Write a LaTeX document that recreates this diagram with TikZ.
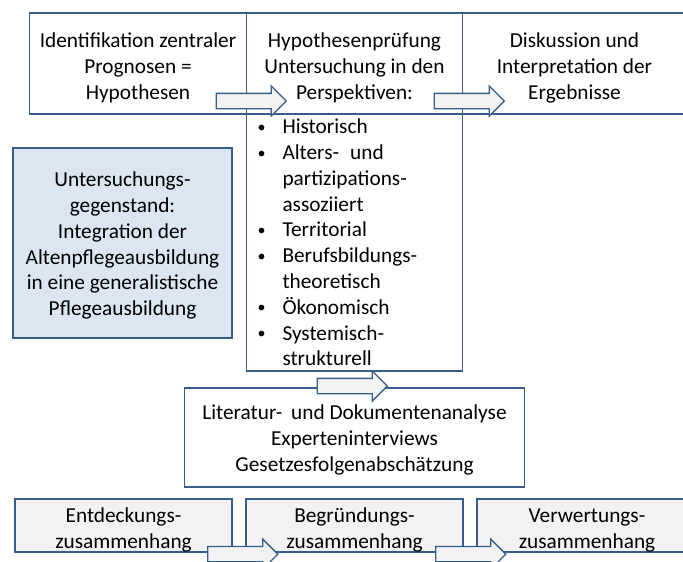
\documentclass[tikz,border=0pt]{standalone}
\usepackage{fontspec}
\setmainfont{Carlito}
\usetikzlibrary{
  shapes.arrows,
  positioning
}
\definecolor{frameblue}{HTML}{385D8A}
\definecolor{subjblue}{HTML}{DCE6F2}
\definecolor{ctxgray}{HTML}{F2F2F2}
\newcommand{\bitem}{\makebox[25pt][l]{\raisebox{1.5pt}{\fontsize{16}{16}\selectfont\textbullet}}}
\newcommand{\bcont}{\hspace*{25pt}}
\newcommand{\lowstrut}{\rule{0pt}{24pt}}
\newcommand{\midstrut}{\rule{0pt}{20pt}}
\tikzset{
  every node/.style={align=center, inner sep=0pt, outer sep=0pt,
    font=\fontsize{21.3}{25.8}\selectfont},
  box/.style={draw=frameblue, line width=1.8pt, fill=white},
  blockarrow/.style={draw=frameblue, line width=1.3pt, fill=ctxgray,
    single arrow, single arrow head extend=7.5pt, inner ysep=7pt,
    minimum height=70pt},
}

\begin{document}
\begin{tikzpicture}[x=1pt, y=-1pt]
      \useasboundingbox (0,0) rectangle (683,562);

      % top row
      \node (idf) [box, minimum width=217pt, minimum height=101pt] at (138,63.5) {
        \lowstrut Identifikation zentraler \\
        Prognosen = \\
        Hypothesen
      };
      \node (hyp) [box, right=0pt of idf, minimum width=216pt, minimum height=101pt] {
        \lowstrut Hypothesenprüfung \\
        Untersuchung in den \\
        Perspektiven:
      };
      \node (disk) [box, right=0pt of hyp, minimum width=224pt, minimum height=101pt] {
        \lowstrut Diskussion und \\
        Interpretation der \\
        Ergebnisse
      };
      \node (persp) [box, below=0pt of hyp, minimum width=216pt, minimum height=257pt,
        text width=194pt, inner xsep=11pt, align=left] {
        \bitem Historisch \\
        \bitem Alters-\hspace{4pt} und \\
        \bcont partizipations- \\
        \bcont assoziiert \\
        \bitem Territorial \\
        \bitem Berufsbildungs- \\
        \bcont theoretisch \\
        \bitem Ökonomisch \\
        \bitem Systemisch- \\
        \bcont strukturell
      };

      % subject
      \node (subj) [box, fill=subjblue, minimum width=219pt, minimum height=190pt] at (122.5,243) {
        \midstrut Untersuchungs- \\
        gegenstand: \\
        Integration der \\
        Altenpflegeausbildung \\
        in eine generalistische \\
        Pflegeausbildung
      };

      % methods
      \node (meth) [box, below=17pt of persp, minimum width=340pt, minimum height=99pt] {
        \midstrut Literatur-\hspace{4pt} und Dokumentenanalyse \\
        Experteninterviews \\
        Gesetzesfolgenabschätzung
      };

      % contexts
      \node (ent) [box, fill=ctxgray, minimum width=217pt, minimum height=50pt] at (123.5,525.5) {
        \lowstrut Entdeckungs- \\
        zusammenhang
      };
      \node (beg) [box, fill=ctxgray, right=14pt of ent, minimum width=217pt, minimum height=50pt] {
        \lowstrut Begründungs- \\
        zusammenhang
      };
      \node (verw) [box, fill=ctxgray, right=14pt of beg, minimum width=220pt, minimum height=50pt] {
        \lowstrut Verwertungs- \\
        zusammenhang
      };

      \node (a1) [blockarrow] at ([xshift=1pt, yshift=13pt]idf.south east) {};
      \node (a2) [blockarrow] at ([xshift=3pt, yshift=13pt]hyp.south east) {};
      \node (a3) [blockarrow] at ([xshift=-6pt, yshift=-15pt]persp.south) {};
      \node (a4) [blockarrow] at ([xshift=7pt, yshift=-2pt]ent.south east) {};
      \node (a5) [blockarrow] at ([xshift=4pt, yshift=-2pt]beg.south east) {};
    \end{tikzpicture}
\end{document}
